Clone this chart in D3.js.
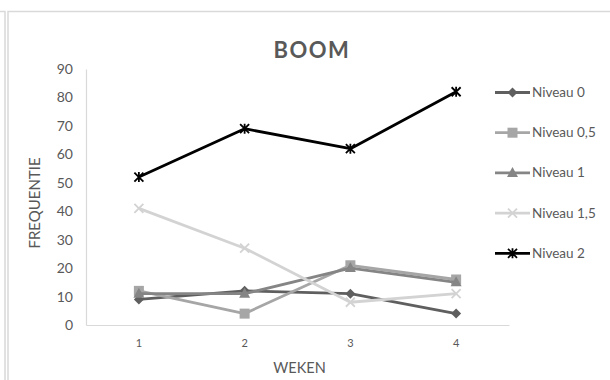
<!DOCTYPE html>
<html>
<head>
<meta charset="utf-8">
<script src="https://cdn.jsdelivr.net/npm/d3@7"></script>
<style>
  html, body { margin: 0; padding: 0; background: #fff; }
  svg { display: block; font-family: Lato, "Open Sans", sans-serif; }
</style>
</head>
<body>
<svg id="chart" width="610" height="380"></svg>
<script>
// Weekly frequency per level
const weeks = ["1", "2", "3", "4"];
const seriesNames = ["Niveau 0", "Niveau 0,5", "Niveau 1", "Niveau 1,5", "Niveau 2"];
const niveau0 = [9, 12, 11, 4];
const niveau05 = [12, 4, 21, 16];
const niveau1 = [11, 11, 20, 15];
const niveau15 = [41, 27, 8, 11];
const niveau2 = [52, 69, 62, 82];
const yTicks = [0, 10, 20, 30, 40, 50, 60, 70, 80, 90];

const seriesValues = [niveau0, niveau05, niveau1, niveau15, niveau2];
const colors = ["#5f5f5f", "#a6a6a6", "#858585", "#d3d3d3", "#000000"];
const markers = ["diamond", "square", "triangle", "cross", "star"];

const svg = d3.select("#chart");

// frame lines
const frame = svg.append("g").attr("fill", "none").attr("stroke", "#d9d9d9").attr("stroke-width", 1.5);
frame.append("path").attr("d", "M0,11.5H5H5V380");
frame.append("path").attr("d", "M8,380V11.5H610");

const plot = { left: 86, right: 509, top: 69, bottom: 325 };

const x = d3.scaleBand().domain(weeks).range([plot.left, plot.right]);
const y = d3.scaleLinear().domain([0, 90]).range([plot.bottom, plot.top]);

// axes
const yAxis = svg.append("g")
  .attr("transform", `translate(${plot.left},0)`)
  .call(d3.axisLeft(y).tickValues(yTicks).tickSize(0).tickPadding(13));
yAxis.select(".domain").attr("stroke", "#d9d9d9").attr("stroke-width", 1.2);
yAxis.selectAll("text").attr("fill", "#595959").style("font-size", "14px").style("font-family", "Lato, sans-serif");

const xAxis = svg.append("g")
  .attr("transform", `translate(0,${plot.bottom})`)
  .call(d3.axisBottom(x).tickSize(0).tickPadding(14));
xAxis.select(".domain").attr("stroke", "#d9d9d9").attr("stroke-width", 1.2);
xAxis.selectAll("text").attr("fill", "#595959").style("font-size", "11px").style("font-family", "Lato, sans-serif");

// titles
svg.append("text").attr("x", 312).attr("y", 58).attr("text-anchor", "middle")
  .attr("fill", "#595959").style("font-size", "22px").style("font-weight", "bold")
  .style("letter-spacing", "1.5px").text("BOOM");
svg.append("text").attr("x", (plot.left + plot.right) / 2 + 2).attr("y", 373).attr("text-anchor", "middle")
  .attr("fill", "#595959").style("font-size", "14.5px").text("WEKEN");
svg.append("text").attr("transform", `translate(40,${(plot.top + plot.bottom) / 2 + 6}) rotate(-90)`)
  .attr("text-anchor", "middle").attr("fill", "#595959").style("font-size", "15px").text("FREQUENTIE");

function drawMarker(g, type, color, cx, cy) {
  if (type === "diamond") {
    g.append("path").attr("d", `M${cx},${cy - 5}L${cx + 5},${cy}L${cx},${cy + 5}L${cx - 5},${cy}Z`).attr("fill", color);
  } else if (type === "square") {
    g.append("rect").attr("x", cx - 5).attr("y", cy - 5).attr("width", 10).attr("height", 10).attr("fill", color);
  } else if (type === "triangle") {
    g.append("path").attr("d", `M${cx},${cy - 6}L${cx + 5.5},${cy + 4}L${cx - 5.5},${cy + 4}Z`).attr("fill", color);
  } else if (type === "cross") {
    g.append("path").attr("d", `M${cx - 4.5},${cy - 4.5}L${cx + 4.5},${cy + 4.5}M${cx + 4.5},${cy - 4.5}L${cx - 4.5},${cy + 4.5}`)
      .attr("stroke", color).attr("stroke-width", 1.8).attr("fill", "none");
  } else if (type === "star") {
    g.append("path").attr("d", `M${cx - 4.5},${cy - 4.5}L${cx + 4.5},${cy + 4.5}M${cx + 4.5},${cy - 4.5}L${cx - 4.5},${cy + 4.5}M${cx},${cy - 5}L${cx},${cy + 5}`)
      .attr("stroke", color).attr("stroke-width", 1.8).attr("fill", "none");
  }
}

const line = d3.line().x((d, i) => x(weeks[i]) + x.bandwidth() / 2).y(d => y(d));

seriesValues.forEach((vals, s) => {
  const g = svg.append("g");
  g.append("path").datum(vals).attr("d", line).attr("fill", "none")
    .attr("stroke", colors[s]).attr("stroke-width", 2.8).attr("stroke-linejoin", "round");
  vals.forEach((v, i) => drawMarker(g, markers[s], colors[s], x(weeks[i]) + x.bandwidth() / 2, y(v)));
});

// legend
const legend = svg.append("g");
seriesNames.forEach((name, s) => {
  const ly = 92.5 + s * 40.2;
  const g = legend.append("g");
  g.append("line").attr("x1", 495).attr("x2", 530).attr("y1", ly).attr("y2", ly)
    .attr("stroke", colors[s]).attr("stroke-width", 2.8);
  drawMarker(g, markers[s], colors[s], 512.5, ly);
  g.append("text").attr("x", 532).attr("y", ly + 4.5).attr("fill", "#595959")
    .style("font-size", "13.5px").text(name);
});
</script>
</body>
</html>
